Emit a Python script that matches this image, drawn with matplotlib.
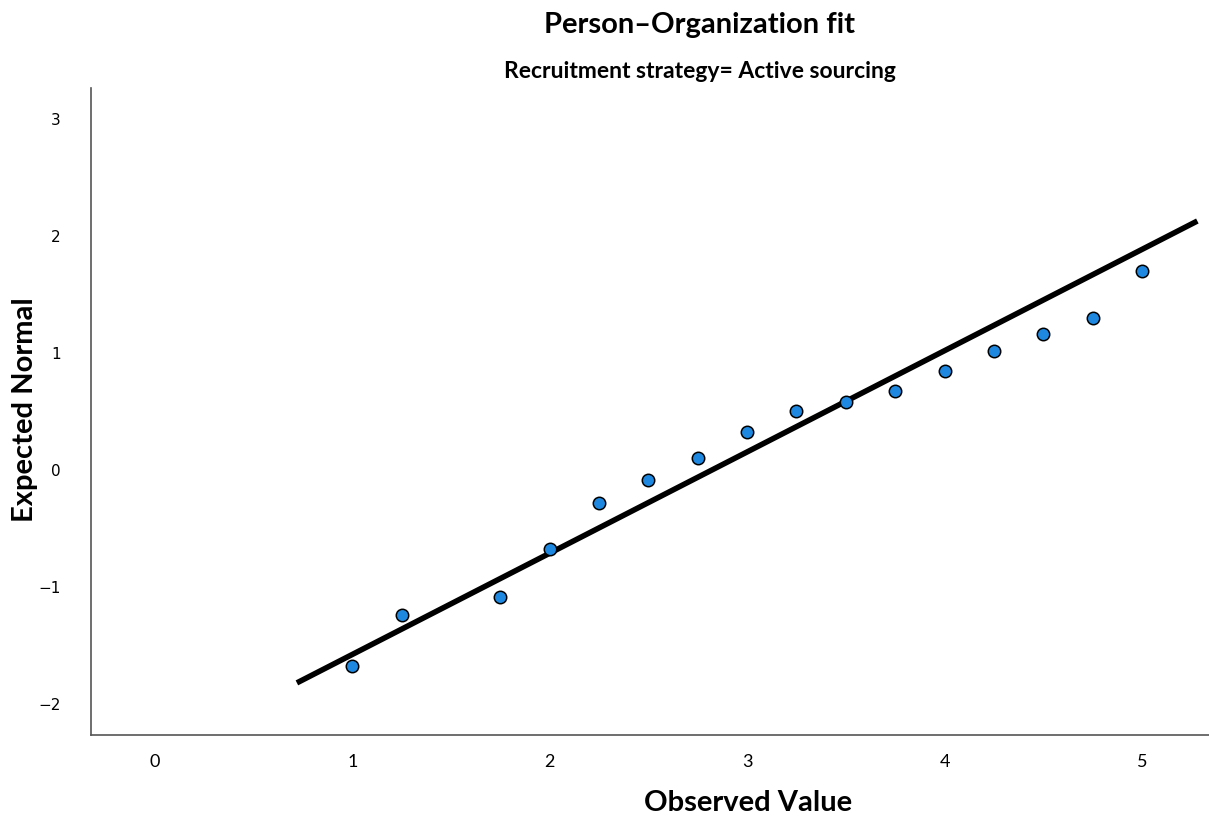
import matplotlib
matplotlib.use("Agg")
import matplotlib.pyplot as plt
import numpy as np

observed = [1.0, 1.25, 1.75, 2.0, 2.25, 2.5, 2.75, 3.0, 3.25, 3.5, 3.75, 4.0, 4.25, 4.5, 4.75, 5.0]
expected = [-1.675, -1.239, -1.085, -0.675, -0.282, -0.085, 0.103, 0.325, 0.504, 0.581, 0.675, 0.846, 1.017, 1.162, 1.299, 1.701]
line_x = [0.719, 5.281]
line_slope = 0.8654
line_intercept = -2.442
x_ticks = [0, 1, 2, 3, 4, 5]
y_ticks = [-2, -1, 0, 1, 2, 3]

narrow = "Lato"

fig = plt.figure(figsize=(12.09, 8.21), dpi=100)
ax = fig.add_axes([0.0753, 0.1048, 0.9247, 0.788])
ax.set_xlim(-0.324, 5.34)
ax.set_ylim(-2.265, 3.265)

lx = np.array(line_x)
ax.plot(lx, line_slope * lx + line_intercept, color="black", lw=4, solid_capstyle="butt", zorder=2)
ax.scatter(observed, expected, s=80, color="#1e88e0", edgecolor="black", linewidth=1.1, zorder=3)

ax.set_xticks(x_ticks)
ax.set_yticks(y_ticks)
ax.tick_params(length=0, pad=14)
ax.tick_params(axis="y", pad=22)
for lab in ax.get_xticklabels():
    lab.set_fontfamily(narrow)
    lab.set_fontsize(13)
for lab in ax.get_yticklabels():
    lab.set_fontsize(11)
for s in ["top", "right"]:
    ax.spines[s].set_visible(False)
for s in ["left", "bottom"]:
    ax.spines[s].set_color("#555555")
    ax.spines[s].set_linewidth(1.2)

fig.text(748 / 1209, 1 - 803 / 821, "Observed Value", ha="center", va="center",
         fontfamily=narrow, fontweight="bold", fontsize=21)
fig.text(25 / 1209, 1 - 410 / 821, "Expected Normal", ha="center", va="center", rotation=90,
         fontfamily=narrow, fontweight="bold", fontsize=21)
fig.text(700 / 1209, 1 - 25 / 821, "Person\u2013Organization fit", ha="center", va="center",
         fontfamily=narrow, fontweight="bold", fontsize=21)
fig.text(700 / 1209, 1 - 71 / 821, "Recruitment strategy= Active sourcing", ha="center", va="center",
         fontfamily=narrow, fontweight="bold", fontsize=16.5)

fig.savefig("out.png", dpi=100)
